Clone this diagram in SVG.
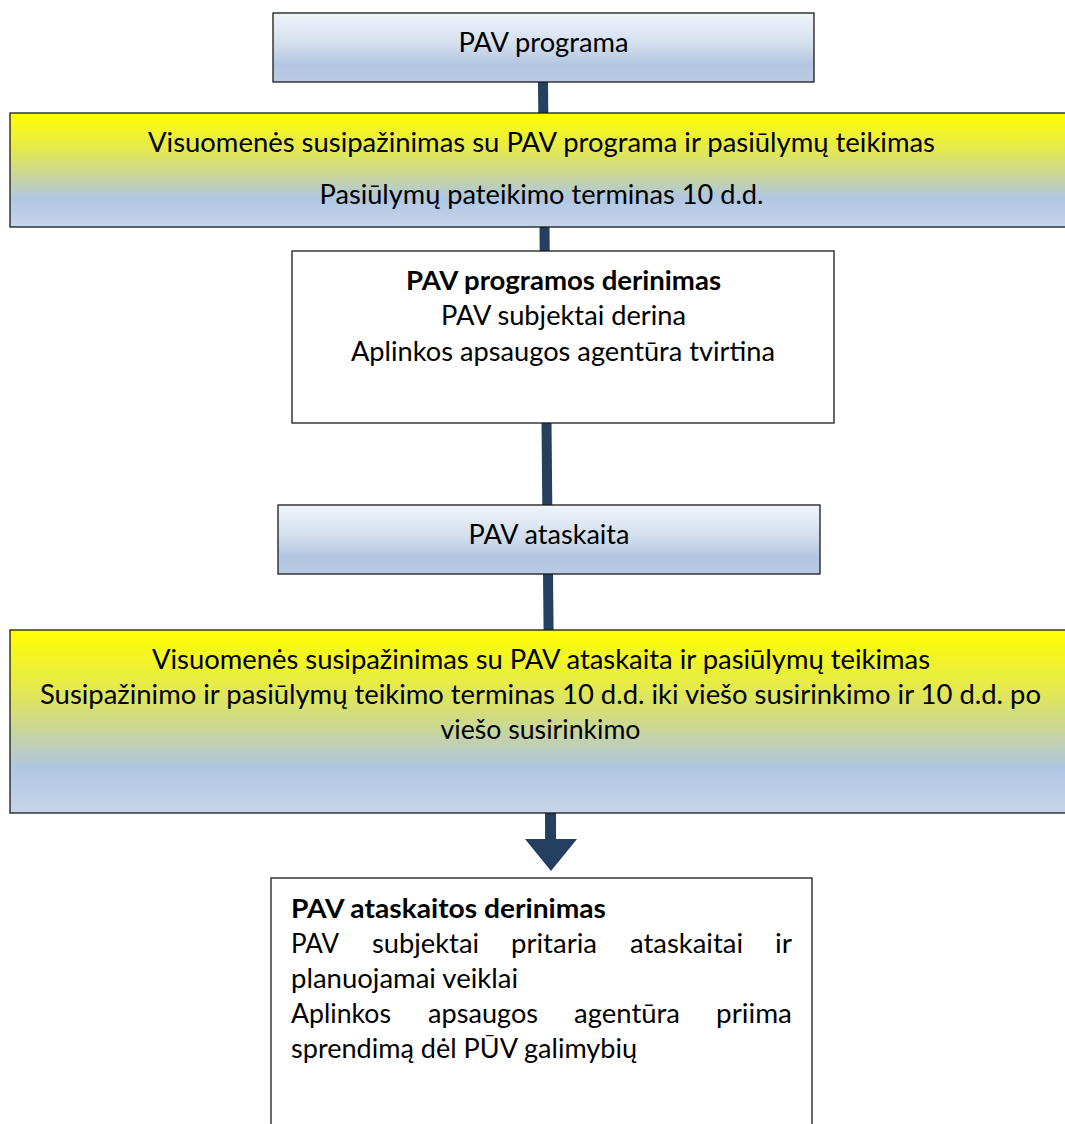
<svg xmlns="http://www.w3.org/2000/svg" width="1065" height="1124" viewBox="0 0 1065 1124">
<style>
.t{font-family:Lato,"Open Sans","Liberation Sans",sans-serif;font-size:27px;fill:#000}
.b{font-weight:bold}
.m{text-anchor:middle}
.box{stroke:#1a1a1a;stroke-width:1.3}
.con{stroke:#243f60;stroke-width:10;fill:none}
</style>
<defs>
<linearGradient id="gBlue" x1="0" y1="0" x2="0" y2="1">
<stop offset="0" stop-color="#f0f4fa"/>
<stop offset="0.45" stop-color="#d3dfee"/>
<stop offset="0.75" stop-color="#b2c6e1"/>
<stop offset="1" stop-color="#b9cbe4"/>
</linearGradient>
<linearGradient id="gYel" x1="0" y1="0" x2="0" y2="1">
<stop offset="0" stop-color="#ffff00"/>
<stop offset="0.3" stop-color="#e6eb48"/>
<stop offset="0.55" stop-color="#c8d69a"/>
<stop offset="0.75" stop-color="#b0c6e2"/>
<stop offset="1" stop-color="#c6d6eb"/>
</linearGradient>
</defs>
<rect width="1065" height="1124" fill="#ffffff"/>
<g id="connectors">
<line class="con" x1="543" y1="80" x2="543.3" y2="115"/>
<line class="con" x1="544.5" y1="225" x2="544.7" y2="253"/>
<line class="con" x1="546.5" y1="421" x2="547.3" y2="507"/>
<line class="con" x1="548" y1="572" x2="548.6" y2="632"/>
<line class="con" x1="550.5" y1="811" x2="550.6" y2="842" style="stroke-width:11"/>
<polygon points="525,839 577,839 551,871" fill="#243f60"/>
</g>
<g id="node1">
<rect class="box" x="273" y="13" width="541" height="69" fill="url(#gBlue)"/>
<text class="t m" x="543.5" y="52" textLength="170" lengthAdjust="spacingAndGlyphs">PAV programa</text>
</g>
<g id="node2">
<rect class="box" x="10" y="113" width="1062" height="114" fill="url(#gYel)"/>
<text class="t m" x="541.5" y="152" textLength="787" lengthAdjust="spacingAndGlyphs">Visuomenės susipažinimas su PAV programa ir pasiūlymų teikimas</text>
<text class="t m" x="541.5" y="204" textLength="444" lengthAdjust="spacingAndGlyphs">Pasiūlymų pateikimo terminas 10 d.d.</text>
</g>
<g id="node3">
<rect class="box" x="292" y="251" width="542" height="172" fill="#ffffff"/>
<text class="t b m" x="563.5" y="290" textLength="315" lengthAdjust="spacingAndGlyphs">PAV programos derinimas</text>
<text class="t m" x="563.5" y="325" textLength="245" lengthAdjust="spacingAndGlyphs">PAV subjektai derina</text>
<text class="t m" x="563" y="361" textLength="424" lengthAdjust="spacingAndGlyphs">Aplinkos apsaugos agentūra tvirtina</text>
</g>
<g id="node4">
<rect class="box" x="278" y="505" width="542" height="69" fill="url(#gBlue)"/>
<text class="t m" x="549" y="544" textLength="161" lengthAdjust="spacingAndGlyphs">PAV ataskaita</text>
</g>
<g id="node5">
<rect class="box" x="10" y="630" width="1062" height="183" fill="url(#gYel)"/>
<text class="t m" x="541" y="669" textLength="778" lengthAdjust="spacingAndGlyphs">Visuomenės susipažinimas su PAV ataskaita ir pasiūlymų teikimas</text>
<text class="t m" x="540.5" y="704" textLength="1001" lengthAdjust="spacingAndGlyphs">Susipažinimo ir pasiūlymų teikimo terminas 10 d.d. iki viešo susirinkimo ir 10 d.d. po</text>
<text class="t m" x="540.5" y="739" textLength="200" lengthAdjust="spacingAndGlyphs">viešo susirinkimo</text>
</g>
<g id="node6">
<rect class="box" x="271" y="878" width="541" height="260" fill="#ffffff"/>
<text class="t b" x="291" y="918" textLength="315" lengthAdjust="spacingAndGlyphs">PAV ataskaitos  derinimas</text>
<text class="t" y="953"><tspan x="291" textLength="48" lengthAdjust="spacingAndGlyphs">PAV</tspan><tspan x="372" textLength="107" lengthAdjust="spacingAndGlyphs">subjektai</tspan><tspan x="511" textLength="86" lengthAdjust="spacingAndGlyphs">pritaria</tspan><tspan x="630" textLength="113" lengthAdjust="spacingAndGlyphs">ataskaitai</tspan><tspan x="775" textLength="17" lengthAdjust="spacingAndGlyphs">ir</tspan></text>
<text class="t" x="291" y="988" textLength="227" lengthAdjust="spacingAndGlyphs">planuojamai veiklai</text>
<text class="t" y="1023"><tspan x="291" textLength="100" lengthAdjust="spacingAndGlyphs">Aplinkos</tspan><tspan x="428" textLength="110" lengthAdjust="spacingAndGlyphs">apsaugos</tspan><tspan x="574" textLength="106" lengthAdjust="spacingAndGlyphs">agentūra</tspan><tspan x="716" textLength="76" lengthAdjust="spacingAndGlyphs">priima</tspan></text>
<text class="t" x="291" y="1058" textLength="346" lengthAdjust="spacingAndGlyphs">sprendimą dėl PŪV galimybių</text>
</g>
</svg>
